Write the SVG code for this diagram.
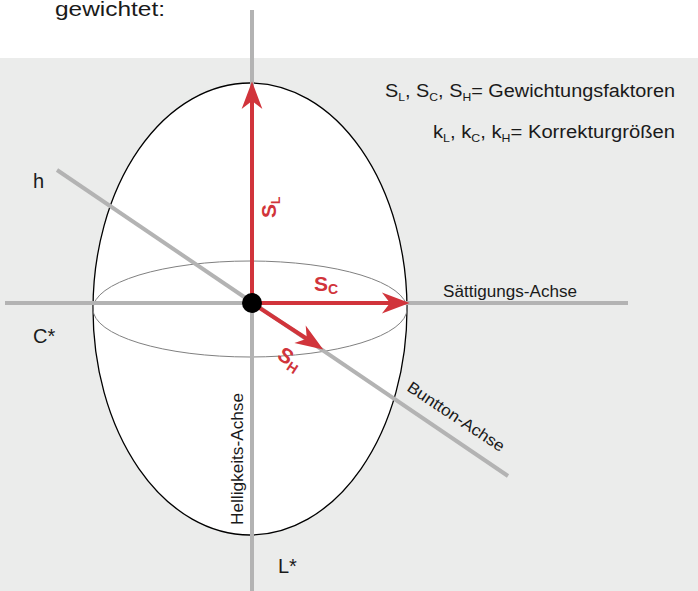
<svg xmlns="http://www.w3.org/2000/svg" width="698" height="591" viewBox="0 0 698 591">
  <style>
    .txt { font-family: "Liberation Sans", Arial, sans-serif; fill: #1a1a1a; }
    .axis { stroke: #b3b3b3; stroke-width: 4; fill: none; }
    .red { stroke: #d1343b; stroke-width: 4; fill: none; }
    .rlab { font-family: "Liberation Sans", Arial, sans-serif; font-weight: bold; fill: #d1343b; }
  </style>
  <defs>
    <marker id="arr" markerUnits="userSpaceOnUse" markerWidth="30" markerHeight="24" viewBox="-8 -10 26 20" refX="0" refY="0" orient="auto">
      <path d="M17,0 L-7,-9 L0,0 L-7,9 Z" fill="#d1343b"/>
    </marker>
  </defs>

  <rect x="0" y="0" width="698" height="591" fill="#ffffff"/>
  <rect x="0" y="58" width="698" height="533" fill="#ebeceb"/>

  <text class="txt" x="55" y="16" font-size="20" textLength="110" lengthAdjust="spacingAndGlyphs">gewichtet:</text>

  <g id="ellipsoid">
    <ellipse cx="250" cy="309" rx="157" ry="226" fill="#ffffff" stroke="#000000" stroke-width="1.3"/>
    <ellipse cx="250" cy="309" rx="157" ry="48" fill="none" stroke="#808080" stroke-width="1"/>
  </g>

  <g id="connectors">
    <line class="axis" x1="252" y1="10" x2="252" y2="591"/>
    <line class="axis" x1="5" y1="303" x2="628" y2="303"/>
    <line class="axis" x1="57" y1="170" x2="508" y2="476"/>
    <line class="red" x1="252" y1="303" x2="252" y2="101" marker-end="url(#arr)"/>
    <line class="red" x1="252" y1="303" x2="390" y2="303" marker-end="url(#arr)"/>
    <line class="red" x1="252" y1="303" x2="306.8" y2="338.7" marker-end="url(#arr)"/>
  </g>

  <g id="center">
    <circle cx="252" cy="303" r="10" fill="#000000"/>
  </g>

  <g id="label-SL">
    <text class="rlab" transform="translate(276,218) rotate(-90)" font-size="21">S<tspan font-size="12" dy="4">L</tspan></text>
  </g>
  <g id="label-SC">
    <text class="rlab" x="314" y="291" font-size="21">S<tspan font-size="14" dy="3">C</tspan></text>
  </g>
  <g id="label-SH">
    <text class="rlab" transform="translate(276,358) rotate(33)" font-size="21">S<tspan font-size="14" dy="4">H</tspan></text>
  </g>

  <g id="legend">
    <text class="txt" x="385" y="97" font-size="18" textLength="290" lengthAdjust="spacingAndGlyphs">S<tspan font-size="11" dy="4">L</tspan><tspan dy="-4">, S</tspan><tspan font-size="11" dy="4">C</tspan><tspan dy="-4">, S</tspan><tspan font-size="11" dy="4">H</tspan><tspan dy="-4">= Gewichtungsfaktoren</tspan></text>
    <text class="txt" x="433" y="138" font-size="18" textLength="242" lengthAdjust="spacingAndGlyphs">k<tspan font-size="11" dy="4">L</tspan><tspan dy="-4">, k</tspan><tspan font-size="11" dy="4">C</tspan><tspan dy="-4">, k</tspan><tspan font-size="11" dy="4">H</tspan><tspan dy="-4">= Korrekturgrößen</tspan></text>
  </g>

  <g id="axis-labels">
    <text class="txt" x="33" y="188" font-size="20">h</text>
    <text class="txt" x="33" y="343" font-size="20">C*</text>
    <text class="txt" x="278" y="573" font-size="20">L*</text>
    <text class="txt" x="443" y="297" font-size="16" textLength="134" lengthAdjust="spacingAndGlyphs">Sättigungs-Achse</text>
    <text class="txt" transform="translate(243,525) rotate(-90)" font-size="16" textLength="132" lengthAdjust="spacingAndGlyphs">Helligkeits-Achse</text>
    <text class="txt" transform="translate(406,390) rotate(33.5)" font-size="16" textLength="113" lengthAdjust="spacingAndGlyphs">Buntton-Achse</text>
  </g>
</svg>
